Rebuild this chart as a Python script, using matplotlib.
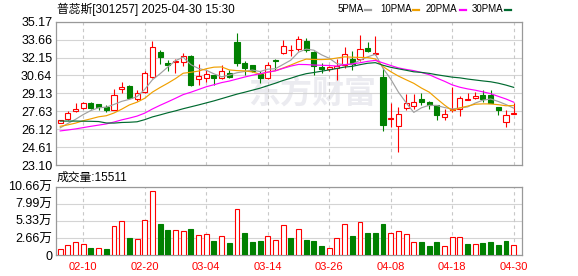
import matplotlib
matplotlib.use("agg")
import matplotlib.pyplot as plt
from matplotlib.lines import Line2D
import numpy as np
import pandas as pd

plt.rcParams["font.family"] = ["Liberation Sans", "Noto Sans CJK SC", "DejaVu Sans"]

title = "普蕊斯[301257] 2025-04-30 15:30"
dates = pd.bdate_range("2025-02-05", "2025-04-30").drop(pd.Timestamp("2025-04-04"))

opens = [26.65, 26.98, 27.63, 27.88, 28.33, 28.24, 27.99, 27.74, 29.47, 29.78,
         28.66, 29.25, 30.53, 32.60, 31.68, 31.80, 31.79, 32.24, 30.34, 30.42,
         30.67, 30.42, 30.81, 33.44, 31.71, 31.51, 30.78, 30.39, 31.93, 32.52,
         32.76, 32.85, 33.55, 32.65, 31.34, 31.17, 31.31, 31.54, 32.07, 32.07,
         32.96, 32.43, 30.48, 27.00, 26.40, 27.91, 28.07, 28.66, 28.41, 28.13,
         27.15, 27.71, 27.82, 28.58, 28.74, 29.02, 29.02, 27.99, 26.76, 27.42]
highs = [26.92, 27.65, 28.33, 28.38, 28.44, 28.27, 28.13, 29.53, 30.11, 29.83,
         29.39, 31.03, 33.55, 32.82, 31.96, 32.01, 32.54, 32.35, 31.62, 31.06,
         30.70, 31.51, 31.11, 34.19, 31.82, 31.53, 30.98, 31.79, 32.04, 33.61,
         33.21, 33.99, 33.77, 32.68, 31.68, 31.43, 32.01, 33.05, 32.74, 34.05,
         33.49, 33.99, 31.26, 28.35, 27.98, 29.11, 29.11, 29.16, 28.52, 28.18,
         27.79, 29.67, 28.88, 29.16, 29.25, 29.42, 29.42, 28.02, 27.71, 28.30]
lows = [26.62, 26.90, 27.57, 27.80, 27.82, 27.71, 27.60, 27.74, 29.16, 28.72,
        28.46, 29.20, 30.42, 31.57, 30.98, 30.84, 31.40, 29.78, 29.81, 30.06,
        29.86, 30.34, 30.42, 31.48, 30.70, 30.92, 30.00, 30.34, 31.12, 32.49,
        32.32, 32.74, 32.60, 30.70, 30.81, 30.98, 30.28, 31.26, 31.12, 31.82,
        32.60, 32.38, 25.98, 26.32, 24.20, 27.77, 27.82, 28.18, 27.85, 26.87,
        26.93, 27.54, 27.21, 28.58, 28.63, 28.41, 28.30, 27.35, 26.29, 27.42]
closes = [26.87, 27.49, 27.82, 28.33, 27.93, 28.02, 27.74, 28.99, 29.64, 28.77,
          29.16, 30.81, 33.02, 32.21, 31.54, 31.87, 32.26, 29.86, 30.62, 30.78,
          30.39, 31.01, 30.53, 31.65, 31.31, 30.98, 30.39, 31.51, 31.87, 33.10,
          32.80, 33.72, 32.82, 31.40, 31.17, 31.34, 31.40, 32.43, 31.59, 32.88,
          32.74, 32.52, 26.45, 27.10, 27.38, 28.30, 28.41, 28.38, 28.18, 27.29,
          27.43, 27.82, 28.77, 28.63, 28.94, 28.63, 28.35, 27.71, 27.32, 27.46]

ma5 = [26.23, 26.60, 26.95, 27.35, 27.69, 27.92, 27.97, 28.20, 28.46, 28.63,
       28.86, 29.47, 30.28, 30.79, 31.35, 31.89, 32.18, 31.55, 31.23, 31.08,
       30.78, 30.53, 30.67, 30.87, 30.98, 31.10, 30.97, 31.17, 31.21, 31.57,
       31.93, 32.60, 32.86, 32.77, 32.38, 32.09, 31.63, 31.55, 31.59, 31.93,
       32.21, 32.43, 31.24, 30.34, 29.24, 28.35, 27.53, 27.92, 28.13, 28.11,
       27.94, 27.82, 27.90, 27.99, 28.32, 28.56, 28.66, 28.45, 28.19, 27.89]
ma10 = [26.36, 26.48, 26.63, 26.83, 26.99, 27.16, 27.25, 27.48, 27.80, 28.16,
        28.39, 28.72, 29.24, 29.63, 29.99, 30.38, 30.83, 30.91, 31.01, 31.21,
        31.34, 31.36, 31.11, 31.05, 31.03, 30.94, 30.75, 30.92, 31.04, 31.27,
        31.52, 31.79, 32.02, 31.99, 31.98, 32.01, 32.11, 32.21, 32.18, 32.16,
        32.15, 32.03, 31.39, 30.96, 30.59, 30.28, 29.98, 29.58, 29.24, 28.68,
        28.15, 27.68, 27.91, 28.06, 28.22, 28.25, 28.24, 28.18, 28.09, 28.11]
ma20 = [25.97, 26.05, 26.14, 26.25, 26.36, 26.46, 26.56, 26.72, 26.90, 27.05,
        27.22, 27.47, 27.82, 28.13, 28.42, 28.72, 29.03, 29.23, 29.46, 29.69,
        29.86, 30.04, 30.17, 30.34, 30.51, 30.66, 30.79, 30.92, 31.03, 31.24,
        31.43, 31.57, 31.56, 31.52, 31.50, 31.48, 31.43, 31.56, 31.61, 31.71,
        31.83, 31.91, 31.70, 31.48, 31.28, 31.15, 31.05, 30.89, 30.71, 30.42,
        30.15, 29.85, 29.65, 29.51, 29.40, 29.26, 29.11, 28.88, 28.66, 28.39]
ma30 = [26.80, 26.80, 26.80, 26.79, 26.78, 26.76, 26.64, 26.63, 26.68, 26.70,
        26.74, 26.92, 27.15, 27.32, 27.50, 27.66, 27.84, 28.00, 28.16, 28.33,
        28.50, 28.69, 28.88, 29.07, 29.23, 29.40, 29.57, 29.78, 29.99, 30.22,
        30.41, 30.62, 30.79, 30.89, 31.00, 31.11, 31.23, 31.35, 31.41, 31.55,
        31.67, 31.72, 31.50, 31.33, 31.20, 31.08, 30.95, 30.90, 30.82, 30.70,
        30.60, 30.50, 30.44, 30.34, 30.26, 30.18, 30.11, 29.99, 29.83, 29.64]

# volume in 万 (10k shares)
volumes = [0.94, 1.56, 1.98, 1.72, 1.09, 1.09, 0.99, 4.47, 5.30, 2.65,
           2.50, 5.46, 9.98, 4.84, 3.95, 3.90, 3.74, 4.11, 3.12, 3.22,
           2.24, 2.96, 1.87, 7.12, 3.43, 2.08, 2.18, 2.96, 2.34, 4.68,
           2.65, 4.00, 2.34, 2.18, 1.40, 1.09, 2.60, 4.78, 2.96, 5.15,
           3.43, 3.43, 4.84, 3.43, 3.74, 3.28, 1.98, 2.03, 1.40, 2.03,
           1.35, 2.76, 2.76, 1.72, 1.66, 1.87, 1.98, 1.56, 2.18, 1.5511]

price_ticks = [23.10, 24.61, 26.12, 27.63, 29.13, 30.64, 32.15, 33.66, 35.17]
vol_ticks = [0, 2.66, 5.33, 7.99, 10.66]
vol_tick_labels = ["0", "2.66万", "5.33万", "7.99万", "10.66万"]
ma_names = ["5PMA", "10PMA", "20PMA", "30PMA"]
ma_colors = ["#a0a0a0", "#f0a000", "#ff00ff", "#006a30"]

RED = "#ff0000"
GREEN = "#008000"
GRID = "#d4d4d4"
FRAME = "#999999"
W, H = 578, 276

x = np.arange(len(closes))
o = np.array(opens)
c = np.array(closes)
up = c >= o
vol_up = np.concatenate([[True], np.diff(c) >= 0])
tick_idx = list(range(3, len(dates), 8))

fig = plt.figure(figsize=(W / 100, H / 100), dpi=100)
ax = fig.add_axes([55.7 / W, 1 - 165 / H, 466.3 / W, 143.3 / H])
axv = fig.add_axes([55.7 / W, 1 - 255 / H, 466.3 / W, 68.3 / H])

# watermark
ax.text(0.55, 0.49, "东方财富", transform=ax.transAxes, ha="center", va="center",
        fontsize=23, fontweight="bold", color="#ebebf0", family="Noto Sans CJK SC", zorder=0)

# candles
edge = np.where(up, RED, GREEN)
face = np.where(up, "white", GREEN)
ax.vlines(x, lows, highs, colors=edge, lw=0.8, zorder=3)
ax.bar(x, np.maximum(np.abs(c - o), 0.02), bottom=np.minimum(o, c), width=0.66,
       color=face, edgecolor=edge, lw=0.8, zorder=4)

for ma, col in zip([ma5, ma10, ma20, ma30], ma_colors):
    ax.plot(x, ma, color=col, lw=0.85, zorder=5)

# volume
vedge = np.where(vol_up, RED, GREEN)
vface = np.where(vol_up, "white", GREEN)
axv.bar(x, volumes, width=0.64, color=vface, edgecolor=vedge, lw=0.8, zorder=3)

for a in (ax, axv):
    a.set_xlim(-0.585, 60.08)
    a.grid(axis="y", color=GRID, lw=0.8)
    for i in tick_idx:
        a.axvline(i, color="#c8c8c8", lw=0.8, ls=(0, (3, 3)), zorder=1)
    for s in a.spines.values():
        s.set_color(FRAME)
        s.set_linewidth(0.9)
    a.tick_params(length=0, labelsize=9, pad=2.5, colors="#000000")
    a.set_axisbelow(True)

ax.set_ylim(price_ticks[0], price_ticks[-1])
ax.set_yticks(price_ticks)
ax.set_yticklabels([f"{t:.2f}" for t in price_ticks])
ax.set_xticks([])

axv.set_ylim(0, vol_ticks[-1])
axv.set_yticks(vol_ticks)
axv.set_yticklabels(vol_tick_labels)
axv.set_xticks(tick_idx)
axv.set_xticklabels([dates[i].strftime("%m-%d") for i in tick_idx])
axv.tick_params(axis="x", labelsize=8, labelcolor=RED, pad=5)

# header
fig.text(57 / W, 1 - 9 / H, title, fontsize=8.5, va="center", ha="left")
legend_pos = [(338, 365), (380.7, 413), (425.7, 460), (472, 505)]
for name, col, (tx, mx) in zip(ma_names, ma_colors, legend_pos):
    fig.text(tx / W, 1 - 9.5 / H, name, fontsize=7, va="center", ha="left")
    fig.add_artist(Line2D([mx / W, (mx + 6) / W], [1 - 9.5 / H, 1 - 9.5 / H],
                          color=col, lw=1.6, transform=fig.transFigure))

fig.text(57 / W, 1 - 178 / H, f"成交量:{round(volumes[-1] * 10000)}",
         fontsize=8.5, va="center", ha="left")

fig.savefig("out.png", dpi=100)
